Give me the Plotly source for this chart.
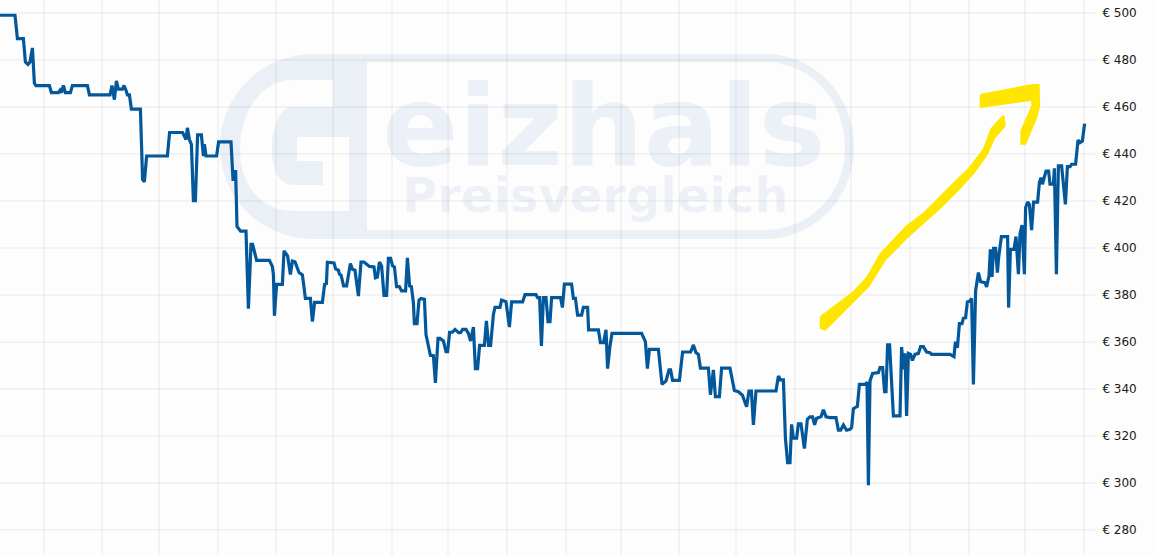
import plotly.graph_objects as go

# Price history (x in axis units, y in euro)
price_points = [
(0,498.9),(7.5,498.9),(8.7,489),(11.7,489),(12.7,479),(14,478),(15,479),(16.2,485),(17.2,470),(18,469),
(24.7,469),(25.7,466),(29.2,466),(30,467),(30.7,466),(31.7,469),(32.7,466),(35.2,466),(36.2,469),(43.7,469),
(44.7,465),(55,465),(56,469),(57.2,463),(58.2,471),(59.2,467.5),(61.2,467.5),(62,469),(63,467),(63.7,465),
(64.7,465),(65.7,459),(70.2,459),(71.3,429),(72.2,428),(73.3,439),(83.7,439),(84.8,449),(91.3,449),(92.3,447),
(93,446),(93.7,451),(94.7,446),(95.7,444),(96.7,420),(97.7,420),(98.8,448),(100.7,448),(101.7,439),(102.2,444),
(103,439),(108.3,439),(109.3,445),(115.5,445),(116.5,429),(117.3,429),(117.8,433),(118.5,409),(120.3,407),(123,407),
(124.2,374),(125.5,401.4),(126.3,401.4),(128.3,394.6),(134.7,394.6),(136.2,392),(136.7,388.6),(137.2,371),(138.3,384.4),(141.2,384.4),
(142,398.6),(143.8,396.5),(145.2,388.6),(146.2,394.3),(147.5,394),(149.5,389.4),(151.2,388.4),(152.7,378.4),(155.2,378.4),(156.2,368.5),
(157.3,376.7),(161.2,376.7),(162.3,384.4),(163.2,384.7),(163.7,393.8),(167,393.5),(167.8,391),(169.2,390.4),(169.7,388.7),(170.5,388.4),
(171.8,383.7),(173.3,383.7),(175.2,393.3),(176.2,390.8),(177.5,390.4),(179.2,379.4),(180.5,393.9),(182,393.9),(183.8,392.9),(184.7,392),
(187,391.8),(187.7,387.2),(188.7,387.5),(189.7,393.9),(190.8,392.2),(192,379.7),(193.3,379.7),(194.2,395.5),(195.3,395.5),(196.3,392.2),
(197.2,391.8),(198.3,383.4),(199.7,383.4),(200.8,381.6),(202.8,381.6),(203.7,395.7),(204.8,383.7),(205.7,383.4),(206.7,376.6),(207.2,367.7),
(208.5,367.7),(209.5,377.7),(210.5,378.4),(212.2,378),(213,363),(214.2,358.2),(215.2,354.2),(216.7,354),(217.7,342.4),(219,361.4),
(220,361.4),(221.7,360.3),(223,355.7),(223.8,355.7),(224.8,364),(226.2,364),(227.5,365.2),(229.3,363.8),(230.3,363.8),(231.3,365.2),
(233,365.2),(234.2,363.5),(235.3,360.3),(236.7,366.2),(237.7,348.5),(238.8,348.5),(239.8,358.4),(242.2,358.4),(243.2,368.8),(244.3,358.4),
(245.3,358.4),(246.7,371.6),(247.5,374.6),(250,374.6),(250.8,377.7),(253,377),(254.7,366.2),(255.8,376.9),(261.3,376.9),(262.5,380),
(268,380),(268.8,378.7),(269.8,378.7),(270.7,358.2),(271.7,378.7),(273,378.7),(274,368.5),(275,368.5),(275.8,378.7),(280.3,378.7),
(281.2,374.5),(282.2,384.5),(285.8,384.5),(286.7,378.4),(287.7,378.4),(288.8,371.3),(290.8,371.3),(291.7,374.6),(293.8,374.6),(294.3,365),
(299.2,365),(300.2,359.6),(301.8,359.6),(303,365),(303.8,348.5),(305,358.2),(306,363.5),(320.8,363.5),(322.7,360),(323.7,348.5),
(324.7,356.7),(329.2,356.7),(330,349),(331,341.8),(333,343.3),(334.5,348),(335.3,348),(336.3,343.5),(339.7,343.5),(341.3,355.6),
(345.3,355.6),(346.7,358.6),(348,355.3),(349.2,354.6),(350.2,348.7),(354.2,348.7),(355.2,337.4),(356.7,348),(357.7,336.6),(359.7,336.6),
(360.8,348.7),(365,348.7),(367.2,339.2),(369.2,338.7),(371.2,337.2),(373.3,332.3),(374.5,339),(375.7,339),(376.7,324.6),(378,339),
(388,339),(389.2,345.4),(390.2,343.7),(391.7,343.7),(392.7,319),(393.8,308.5),(395,308.5),(395.8,324.8),(396.7,318.9),(398.3,318.9),
(399.2,325),(400.5,325),(402.2,314.5),(403.7,327),(405,328),(406.3,328),(407.3,324.6),(408.3,327.4),(410.5,328),(411.7,331),
(413,328),(415,327.7),(418,327.7),(419.2,322.3),(420.3,322.3),(421.7,324.5),(423.3,322.3),(425,322.7),(425.8,323.4),(426.7,331.5),
(428.7,332.5),(429.7,341.8),(432.8,341.8),(433.5,342.8),(434.2,298.9),(435,343.3),(436.3,346.5),(439.2,346.8),(440,349),(441.3,349),
(442.3,338.7),(443,338.7),(443.8,358.6),(444.8,358.6),(446.7,328.4),(450,328.4),(450.8,357.7),(451.7,348.2),(452.5,355),(453.3,328.4),
(454.2,355),(455.3,354.6),(456.2,352),(457.5,354.6),(459.2,355),(460.3,357.9),(461.7,357.9),(463.3,355.6),(465,355.3),(465.8,354.6),
(475,354.6),(477,353.6),(477.7,360),(478.7,357.4),(479.7,367.7),(481,367.7),(481.7,370),(482.8,370.2),(483.7,376.9),(485,377.3),
(485.8,378.4),(486.7,341.8),(487.8,381.6),(489.2,389.4),(490.3,385.5),(492.5,385.1),(493.3,383.3),(494.5,388),(495.2,399.3),(496,387.5),
(496.8,399.7),(497.8,399.7),(498.7,389.4),(499.3,395.7),(500.7,404.7),(503.8,404.7),(504.3,374.5),(505.2,399.3),(507,399.3),(508,404.7),
(509.2,388.7),(510,405.7),(511,409.6),(512.2,388.7),(512.8,417),(513.8,419.4),(514.7,418.4),(515.8,407.5),(516.8,419.4),(518.8,419.4),
(519.7,427.7),(520.5,429.8),(521.2,427),(523,432.6),(524.3,432.6),(525,427),(526.7,427),(527.2,433.8),(528.2,388.7),(529.2,434.8),
(530.8,434.8),(532.7,418.4),(533.7,434.5),(535,434.5),(535.8,435.5),(537.8,435.5),(539,445.8),(540,444.7),(541.2,445.4),(542.3,452.8),
]
month_ticks = [22, 51, 79.5, 109, 138, 166.5, 196, 224, 253.5, 283, 310.5, 339.5, 368, 397.5, 425.5, 455, 484.5, 512.5, 542]
price_ticks = list(range(280, 501, 20))
price_labels = [f"€ {p}" for p in price_ticks]

# Hand-drawn yellow arrow, in the same axis units
arrow_shaft = [
(410.5,370.5),(426.7,380.9),(433.7,387.2),(440.3,397.2),(453.3,408.9),(462.5,414.9),(476.7,427),(485,434),
(492,441.8),(495.8,450.4),(501.7,456),(502.2,451.8),(497,446.8),(493.3,439.7),(486.7,431.9),(478.3,424.1),
(470,417),(462.5,411.3),(454.2,405),(442.5,395),(434.2,383.7),(425,375.9),(412.5,365.2),(410.5,366),(410.5,370.5),
]
arrow_head = [
(490.5,465),(516.3,469.1),(519.2,469.1),(519.5,460.3),(518,455.3),(512.5,444.3),(510.8,444.3),
(510.8,449.6),(516.3,460.3),(516.3,463.1),(490.5,460),(490.5,465),
]

W, H, RIGHT = 1158, 555, 63
PLOT_W = W - RIGHT
BLUE = "#03589b"
YELLOW = "#ffe600"
WM = "#ebf0f7"


def wm_path():
    """Background logo outline, px converted to paper fractions."""
    def X(v): return f"{v / PLOT_W:.5f}"
    def Y(v): return f"{1 - v / H:.5f}"
    segs = [
        ("M", 313, 54), ("L", 765, 54), ("C", 815, 54, 854, 95, 854, 147), ("C", 854, 198, 815, 239, 765, 239),
        ("L", 313, 239), ("C", 262, 239, 220, 198, 220, 147), ("C", 220, 95, 262, 54, 313, 54), ("Z",),
        ("M", 367, 62), ("L", 765, 62), ("C", 810, 62, 845, 100, 845, 147), ("C", 845, 194, 810, 230, 765, 230),
        ("L", 367, 230), ("Z",),
        ("M", 333, 80), ("L", 293, 80), ("C", 262, 80, 240, 110, 240, 150), ("C", 240, 186, 262, 211, 293, 211),
        ("L", 349, 211), ("L", 349, 137), ("L", 297, 137), ("L", 297, 161), ("L", 323, 161), ("L", 323, 185),
        ("L", 293, 185), ("C", 280, 185, 272, 170, 272, 150), ("C", 272, 125, 280, 107, 293, 107), ("L", 333, 107), ("Z",),
    ]
    out = []
    for s in segs:
        c = s[0]
        pts = s[1:]
        coords = " ".join(f"{X(pts[i])},{Y(pts[i + 1])}" for i in range(0, len(pts), 2))
        out.append(f"{c}{coords}")
    return " ".join(out)


fig = go.Figure()
fig.add_trace(go.Scatter(x=[p[0] for p in price_points], y=[p[1] for p in price_points], mode="lines",
                         line=dict(color=BLUE, width=3.2, shape="linear"), hoverinfo="skip", showlegend=False))
for outline in (arrow_shaft, arrow_head):
    fig.add_trace(go.Scatter(x=[p[0] for p in outline], y=[p[1] for p in outline], mode="lines", fill="toself",
                             fillcolor=YELLOW, line=dict(color=YELLOW, width=2.5), hoverinfo="skip", showlegend=False))

fig.add_shape(type="path", path=wm_path(), xref="paper", yref="paper", fillcolor=WM, line=dict(width=0), layer="below")

WM_TEXT = "rgba(0,70,160,0.068)"
fig.add_annotation(text="eizhals", xref="paper", yref="paper", x=380 / PLOT_W, y=1 - 125.5 / H, xanchor="left", yanchor="middle",
                   showarrow=False, font=dict(family="DejaVu Sans", size=113, color=WM_TEXT, weight="bold"))
fig.add_annotation(text="Preisvergleich", xref="paper", yref="paper", x=400 / PLOT_W, y=1 - 195 / H, xanchor="left", yanchor="middle",
                   showarrow=False, font=dict(family="DejaVu Sans", size=48, color=WM_TEXT, weight="bold"))

GRID = "rgba(0,0,0,0.04)"
fig.update_layout(
    width=W, height=H, margin=dict(l=0, r=RIGHT, t=0, b=0, pad=0),
    paper_bgcolor="#fdfdfd", plot_bgcolor="#fdfdfd", showlegend=False,
    xaxis=dict(range=[0, PLOT_W / 2], tickmode="array", tickvals=month_ticks, showticklabels=False,
               showgrid=True, gridcolor=GRID, gridwidth=2, zeroline=False, showline=False, ticks=""),
    yaxis=dict(range=[269.2, 505.4], side="right", tickmode="array", tickvals=price_ticks, ticktext=price_labels,
               showgrid=True, gridcolor=GRID, gridwidth=2, zeroline=False, showline=False, ticks="outside", ticklen=4,
               tickcolor="rgba(0,0,0,0)", tickfont=dict(family="DejaVu Sans", size=12, color="#1a1a1a")),
)

fig.write_html("out.html", config={"displayModeBar": False},
               post_script="document.body.style.margin='0';document.body.style.background='#fdfdfd';")
